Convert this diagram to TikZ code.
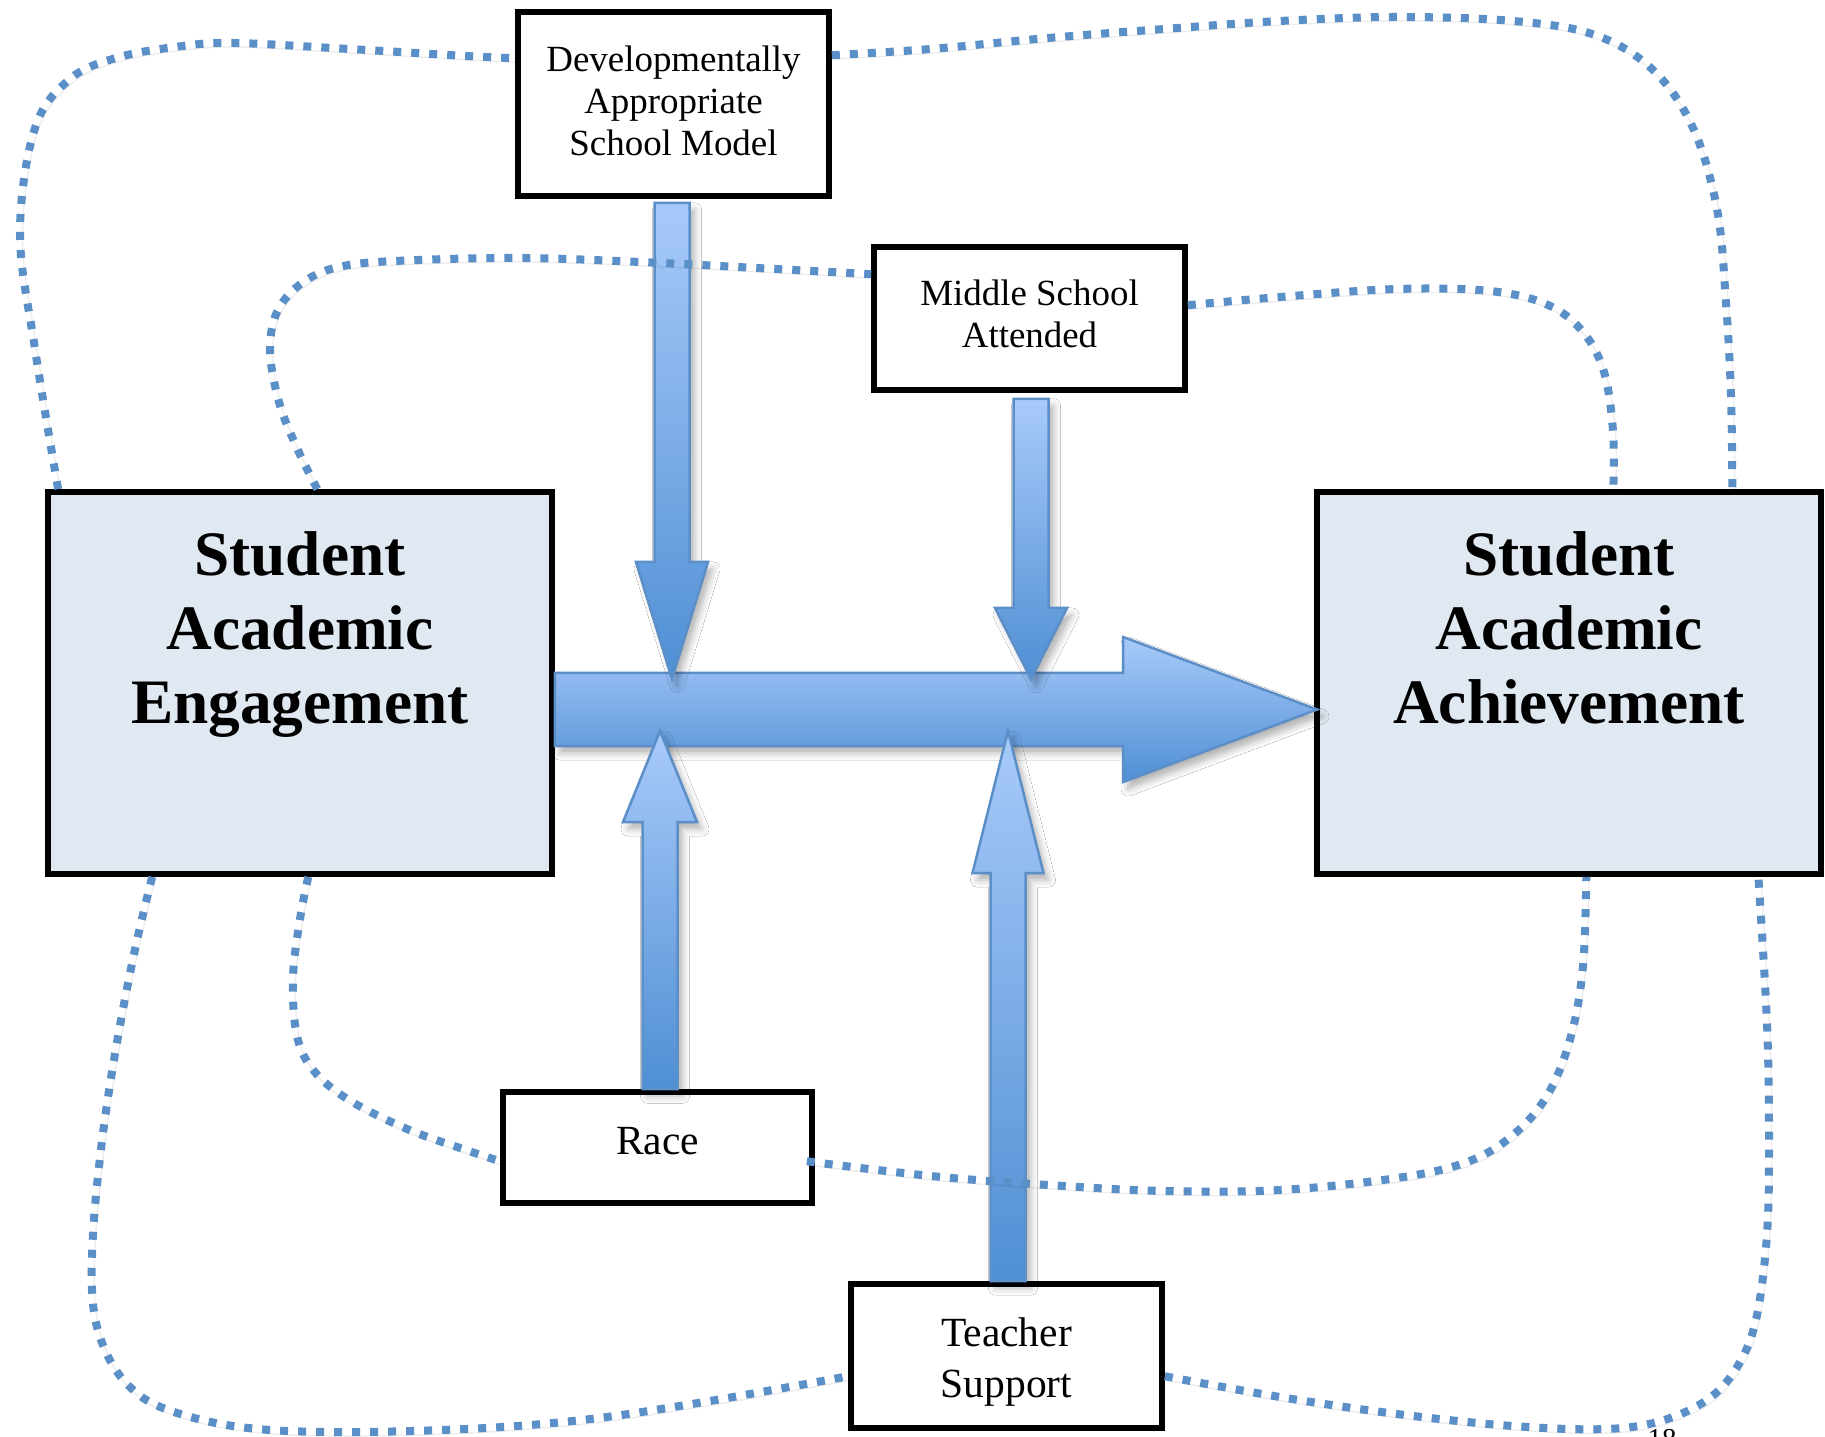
\documentclass[tikz,border=0pt]{standalone}
\usepackage{fontspec}
\setmainfont{Liberation Serif}
\usetikzlibrary{calc,shadows.blur}

\definecolor{dotblue}{HTML}{5B8FC8}
\definecolor{arrowlight}{HTML}{A8CAFA}
\definecolor{arrowdark}{HTML}{4F8FD4}
\definecolor{arrowedge}{HTML}{5C8EC8}
\definecolor{bigfill}{HTML}{E0E8F2}

% vertical block arrow: tail point, tip point, signed head length, head half width
\newcommand\vblockarrow[4]{%
  \path[blockarrow] let \p1=(#1), \p2=(#2) in
    ({\x2-0.175cm},\y1) -- ({\x2-0.175cm},{\y2+(#3)}) -- ({\x2-#4},{\y2+(#3)}) -- (\x2,\y2)
    -- ({\x2+#4},{\y2+(#3)}) -- ({\x2+0.175cm},{\y2+(#3)}) -- ({\x2+0.175cm},\y1) -- cycle;
}

\tikzset{
  framebox/.style={draw=black, line width=0.055cm, fill=white, inner sep=0pt, minimum width=3.11cm},
  bigbox/.style={draw=black, line width=0.055cm, fill=bigfill, inner sep=0pt, minimum width=5.04cm, minimum height=3.82cm},
  smalllabel/.style={align=center, inner sep=0pt, font=\fontsize{10.5}{12.05}\selectfont},
  midlabel/.style={align=center, inner sep=0pt, font=\fontsize{11.8}{14.5}\selectfont},
  biglabel/.style={align=center, inner sep=0pt, font=\fontsize{18}{21}\selectfont\bfseries},
  blockarrow/.style={draw=arrowedge, line width=0.025cm, top color=arrowlight, bottom color=arrowdark,
    blur shadow={shadow xshift=0.05cm, shadow yshift=-0.07cm, shadow blur radius=0.07cm, shadow opacity=30}},
  dotline/.style={draw=dotblue, line width=0.08cm, dash pattern=on 0.08cm off 0.1cm,
    preaction={draw=black, draw opacity=0.07, transform canvas={shift={(0.025cm,-0.04cm)}}}},
  curve/.style={smooth, tension=0.6}
}

\begin{document}
\begin{tikzpicture}[x=0.01cm, y=-0.01cm]
  \useasboundingbox (0,0) rectangle (1825,1437);
  \clip (0,0) rectangle (1825,1437);
  \fill[white] (0,0) rectangle (1825,1437);

  % boxes
  \node[framebox, minimum height=1.84cm] (dev) at (673.5,104) {};
  \node[framebox, minimum height=1.43cm] (ms) at (1029.5,318.5) {};
  \node[bigbox] (sae) at (300,683) {};
  \node[bigbox] (saa) at (1569,683) {};
  \node[framebox, minimum width=3.09cm, minimum height=1.11cm] (race) at (657.5,1147.5) {};
  \node[framebox, minimum height=1.44cm] (ts) at (1006.5,1356) {};

  % box texts
  \node[smalllabel] (devText) at (673.5,101) {Developmentally\\Appropriate\\School Model};
  \node[smalllabel] (msText) at (1029.5,314) {Middle School\\Attended};
  \node[biglabel] (saeText) at (300,634.5) {Student\\Academic\\Engagement};
  \node[biglabel] (saaText) at (1569,627.5) {Student\\Academic\\Achievement};
  \node[midlabel] (raceText) at (657.5,1141) {Race};
  \node[midlabel] (tsText) at (1006.5,1362) {Teacher\\Support};

  % main arrow from engagement to achievement
  \coordinate (mainTail) at ([yshift=-0.265cm]sae.east);
  \coordinate (mainTip) at ([yshift=-0.265cm, xshift=0.03cm]saa.west);
  \path[blockarrow] let \p1=(mainTail), \p2=(mainTip) in
    (\x1,{\y2+0.365cm}) -- ({\x2-1.94cm},{\y2+0.365cm}) -- ({\x2-1.94cm},{\y2+0.725cm}) -- (\x2,\y2)
    -- ({\x2-1.94cm},{\y2-0.725cm}) -- ({\x2-1.94cm},{\y2-0.365cm}) -- (\x1,{\y2-0.365cm}) -- cycle;

  % moderating arrows
  \coordinate (devTail) at ([yshift=-0.04cm]dev.south);
  \coordinate (devTip) at (672,679);
  \vblockarrow{devTail}{devTip}{1.17cm}{0.36cm}
  \coordinate (msTail) at ([yshift=-0.06cm]ms.south);
  \coordinate (msTip) at (1031,679);
  \vblockarrow{msTail}{msTip}{0.71cm}{0.36cm}
  \coordinate (raceTail) at (race.north);
  \coordinate (raceTip) at (660,731);
  \vblockarrow{raceTail}{raceTip}{-0.91cm}{0.37cm}
  \coordinate (tsTail) at (ts.north);
  \coordinate (tsTip) at (1008,731);
  \vblockarrow{tsTail}{tsTip}{-1.42cm}{0.355cm}

  % dotted links
  \coordinate (l1a) at ([xshift=0.13cm]sae.north west);
  \coordinate (l1b) at ([yshift=-0.49cm]dev.north west);
  \draw[dotline] plot[curve] coordinates {(l1a) (35,349) (20,233) (35,128) (70,79) (116,58) (175,47) (233,43) (349,49) (466,56) (l1b)};

  \coordinate (l2a) at ([yshift=-0.46cm]dev.north east);
  \coordinate (l2b) at ([xshift=4.18cm]saa.north west);
  \draw[dotline] plot[curve] coordinates {(l2a) (931,49) (1048,38) (1164,29) (1280,21) (1397,17) (1513,21) (1595,35) (1653,70) (1693,128) (1717,209) (1726,303) (1731,396) (l2b)};

  \coordinate (l3a) at ([xshift=2.72cm]sae.north west);
  \coordinate (l3b) at ([yshift=-0.30cm]ms.north west);
  \draw[dotline] plot[curve] coordinates {(l3a) (297,448) (279,402) (270,349) (279,308) (308,279) (349,265) (419,260) (524,258) (640,262) (757,268) (l3b)};

  \coordinate (l4a) at ([yshift=-0.61cm]ms.north east);
  \coordinate (l4b) at ([xshift=2.99cm]saa.north west);
  \draw[dotline] plot[curve] coordinates {(l4a) (1280,297) (1397,289) (1490,291) (1548,305) (1583,332) (1604,372) (1613,431) (l4b)};

  \coordinate (l5a) at ([xshift=2.63cm]sae.south west);
  \coordinate (l5b) at ([yshift=-0.72cm]race.north west);
  \draw[dotline] plot[curve] coordinates {(l5a) (300,919) (293,978) (297,1036) (314,1071) (349,1100) (407,1129) (466,1150) (l5b)};

  \coordinate (l6a) at ([yshift=-0.72cm, xshift=-0.08cm]race.north east);
  \coordinate (l6b) at ([xshift=2.72cm]saa.south west);
  \draw[dotline] plot[curve] coordinates {(l6a) (931,1176) (1048,1185) (1164,1191) (1280,1190) (1397,1178) (1467,1162) (1513,1135) (1548,1094) (1571,1036) (1583,966) (l6b)};

  \coordinate (l7a) at ([xshift=1.07cm]sae.south west);
  \coordinate (l7b) at ([yshift=-0.95cm]ts.north west);
  \draw[dotline] plot[curve] coordinates {(l7a) (134,954) (116,1048) (102,1141) (93,1234) (93,1304) (105,1350) (128,1385) (163,1408) (233,1426) (326,1432) (466,1429) (582,1420) (698,1403) (l7b)};

  \coordinate (l8a) at ([yshift=-0.95cm]ts.north east);
  \coordinate (l8b) at ([xshift=4.44cm]saa.south west);
  \draw[dotline] plot[curve] coordinates {(l8a) (1280,1397) (1397,1414) (1513,1426) (1606,1429) (1664,1420) (1711,1397) (1740,1362) (1757,1315) (1767,1234) (1769,1141) (1767,1024) (l8b)};

  % page number, running off the lower edge
  \node[anchor=base, inner sep=0pt, font=\fontsize{8.2}{9}\selectfont] (pageno) at (1662,1448) {18};
\end{tikzpicture}
\end{document}
